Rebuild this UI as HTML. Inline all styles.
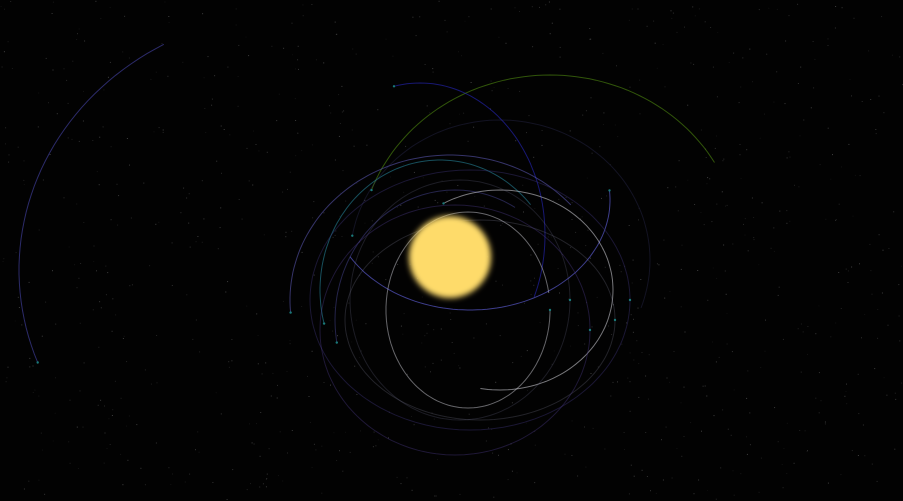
<!DOCTYPE html>
<html><head><meta charset="utf-8">
<style>
html,body{margin:0;padding:0;background:#000;}
#wrap{position:relative;width:903px;height:501px;overflow:hidden;background:#020202;}
svg{position:absolute;left:0;top:0;}
</style></head>
<body>
<div id="wrap">
<svg id="chart" width="903" height="501" viewBox="0 0 903 501">
  <defs>
    <filter id="blur" x="-50%" y="-50%" width="200%" height="200%"><feGaussianBlur stdDeviation="3"/></filter>
  </defs>
  <g id="stars"></g>
  <g id="orbits"></g>
  <circle cx="450" cy="257" r="41" fill="#fedb6a" filter="url(#blur)"/>
</svg>
</div>
<script>
// orbit data: centre, radii, arc start/end angles (deg), colour, opacity
const orbitNames = ['far-arc','green-arc','blue-arc','cyan-arc','violet-arc-1','violet-arc-2','right-violet-arc','white-ring','white-arc','gray-ring-1','gray-ring-2','purple-ring-1','purple-ring-2','dim-ring'];
const orbitCx    = [300, 550, 420, 440, 450, 455, 470, 468, 500, 480, 460, 470, 455, 500];
const orbitCy    = [270, 250, 235, 290, 300, 320, 200, 310, 290, 320, 300, 300, 330, 260];
const orbitRx    = [281, 190, 125, 120, 160, 120, 140,  82, 113, 135, 110, 160, 135, 150];
const orbitRy    = [258, 175, 152, 130, 145, 130, 110,  98, 100, 100, 120, 130, 125, 140];
const orbitStart = [159, 200, 258, 165, 175, 170,  -5,   0, 240,   0,   0,   0,   0, 190];
const orbitEnd   = [241, 330, 385, 320, 320, 300, 150, 350, 460, 360, 360, 360, 360, 380];
const orbitColor = ['#4a48b0','#5a9a12','#2828c0','#2a90a8','#6a66d0','#5a58b8','#6060d8','#e0e0e8','#d8d8e0','#8888a0','#707090','#3a3070','#4a3a88','#3a3a70'];
const orbitAlpha = [0.6, 0.55, 0.6, 0.55, 0.5, 0.4, 0.65, 0.45, 0.55, 0.25, 0.25, 0.45, 0.4, 0.3];

const NS='http://www.w3.org/2000/svg';
// deterministic star field (decoration)
let seed=12345;
function rnd(){seed=(seed*1103515245+12345)%2147483648;return seed/2147483648;}
const stars=document.getElementById('stars');
for(let i=0;i<900;i++){
  const s=document.createElementNS(NS,'rect');
  s.setAttribute('x',(rnd()*903).toFixed(1));
  s.setAttribute('y',(rnd()*501).toFixed(1));
  s.setAttribute('width','1');s.setAttribute('height','1');
  s.setAttribute('fill','#fff');
  s.setAttribute('opacity',(0.05+rnd()*0.2).toFixed(2));
  stars.appendChild(s);
}
function pt(i,deg){const t=deg*Math.PI/180;return [orbitCx[i]+orbitRx[i]*Math.cos(t),orbitCy[i]+orbitRy[i]*Math.sin(t)];}
const g=document.getElementById('orbits');
for(let i=0;i<orbitNames.length;i++){
  let d='';
  for(let a=orbitStart[i];a<=orbitEnd[i];a+=2){
    const p=pt(i,a);d+=(d?'L':'M')+p[0].toFixed(1)+' '+p[1].toFixed(1);
  }
  const path=document.createElementNS(NS,'path');
  path.setAttribute('d',d);
  path.setAttribute('fill','none');
  path.setAttribute('stroke',orbitColor[i]);
  path.setAttribute('stroke-width','1');
  path.setAttribute('opacity',orbitAlpha[i]);
  
  
  g.appendChild(path);
  const e=pt(i,orbitStart[i]);
  const dot=document.createElementNS(NS,'circle');
  dot.setAttribute('cx',e[0].toFixed(1));dot.setAttribute('cy',e[1].toFixed(1));
  dot.setAttribute('r','1.2');dot.setAttribute('fill','#1a7a7a');
  
  
  g.appendChild(dot);
}
</script>
</body></html>
